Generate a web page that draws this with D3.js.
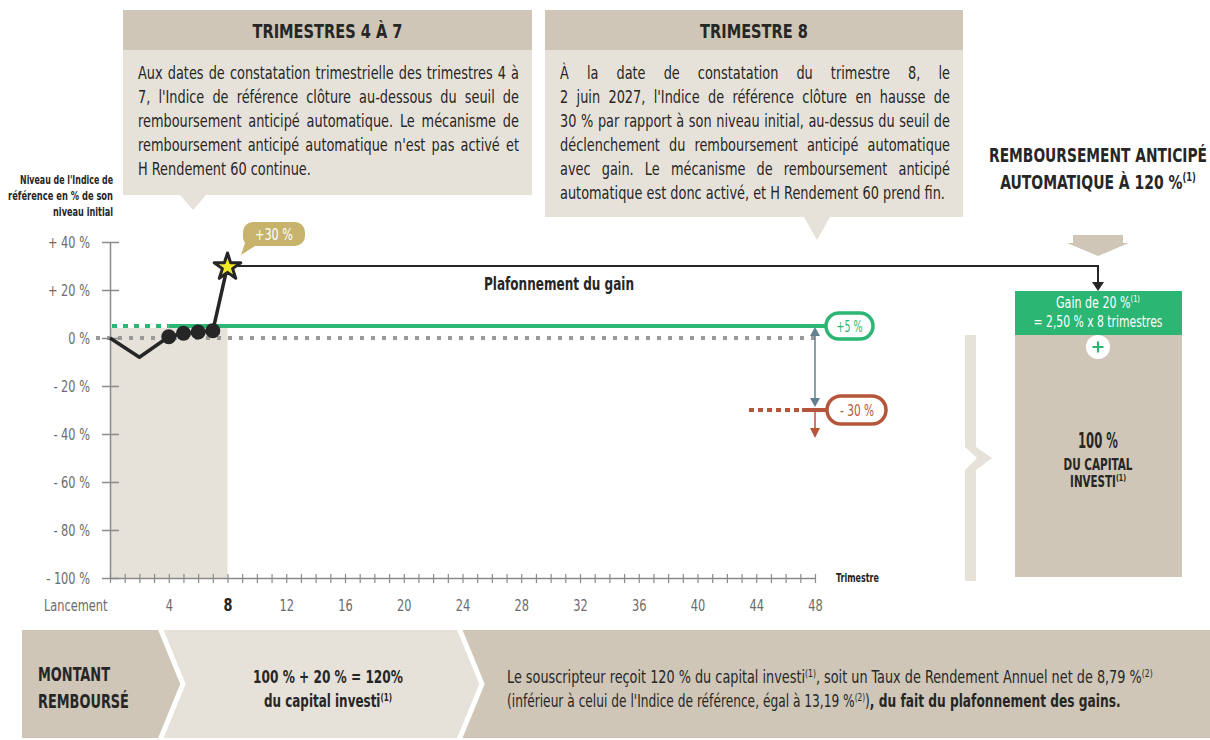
<!DOCTYPE html>
<html>
<head>
<meta charset="UTF-8">
<title>Remboursement anticipé</title>
<script src="https://cdn.jsdelivr.net/npm/d3@7"></script>
<style>
  body { margin: 0; background: #fff; }
  svg text { font-family: 'Liberation Sans Narrow', 'DejaVu Sans Condensed', 'Roboto', sans-serif; }
</style>
</head>
<body>
<script>
// data
var quarterTicks = d3.range(0, 49);
var quarterLabels = [0, 4, 8, 12, 16, 20, 24, 28, 32, 36, 40, 44, 48];
var yTicks = [40, 20, 0, -20, -40, -60, -80, -100];
var yTickLabels = ["+ 40 %", "+ 20 %", "0 %", "- 20 %", "- 40 %", "- 60 %", "- 80 %", "- 100 %"];
var indexQuarters = [0, 2, 4, 5, 6, 7, 8];
var indexValues = [0, -8, 0.5, 2, 2.5, 3, 30];
var observedQuarters = [4, 5, 6, 7];
var autocallLevel = 5;       // seuil de remboursement anticipé
var protectionLevel = -30;   // barrière
var finalQuarter = 8;
var finalValue = 30;

var INK = "#262626", BEIGE = "#cfc6b8", LIGHT = "#e6e2da", GREEN = "#2bb673",
    ORANGE = "#b5553a", SLATE = "#62808f", GOLD = "#c7b36c", GREY = "#8a8a8a";

var svg = d3.select("body").append("svg").attr("width", 1210).attr("height", 740);

function measure(str, size, weight) {
  var t = svg.append("text").attr("font-size", size).attr("font-weight", weight).text(str);
  var w = t.node().getComputedTextLength();
  t.remove();
  return w;
}
var kReg = Math.max(0.5, Math.min(1.3, 173 / measure("H Rendement 60 continue.", 17, 400)));
var kBold = Math.max(0.5, Math.min(1.3, 108 / measure("TRIMESTRE 8", 20, 700)));

// text helper: parts are strings or {t, b, sup}; o.fit squeezes to a width
function label(g, x, y, parts, o) {
  o = o || {};
  var size = o.size || 14;
  var k = o.weight == 700 ? kBold : kReg;
  var t = g.append("text")
    .attr("font-size", size)
    .attr("font-weight", o.weight || 400)
    .attr("fill", o.fill || INK)
    .attr("text-anchor", o.anchor || "start");
  if (typeof parts === "string") parts = [parts];
  var up = false;
  parts.forEach(function(p) {
    if (typeof p === "string") p = {t: p};
    var s = t.append("tspan").text(p.t);
    if (p.sup) { s.attr("font-size", size * 0.6).attr("dy", -size * 0.38); up = true; }
    else if (up) { s.attr("dy", size * 0.38); up = false; }
    if (p.b) s.attr("font-weight", 700);
  });
  if (o.fit) k = o.fit / t.node().getComputedTextLength();
  t.attr("transform", "translate(" + x + "," + y + ") scale(" + k + ",1)");
  if (o.justify) {
    var w = t.node().getComputedTextLength();
    var n = (t.text().match(/ /g) || []).length;
    if (n) t.attr("word-spacing", (o.justify / k - w) / n);
  }
  return t;
}

// scales
var x = d3.scaleLinear().domain([0, 48]).range([110, 815]);
var y = d3.scaleLinear().domain([-100, 40]).range([578, 242]);

// shaded observation window
svg.append("rect").attr("x", x(0)).attr("y", y(autocallLevel) + 2)
  .attr("width", x(finalQuarter) - x(0)).attr("height", y(-100) - y(autocallLevel) - 2)
  .attr("fill", LIGHT);

// 0 % reference (dotted)
svg.append("line").attr("x1", 96).attr("x2", x(48)).attr("y1", y(0)).attr("y2", y(0))
  .attr("stroke", "#9a9a9a").attr("stroke-width", 4).attr("stroke-dasharray", "4,7");

// autocall level
svg.append("line").attr("x1", x(0) + 2).attr("x2", x(4)).attr("y1", y(autocallLevel)).attr("y2", y(autocallLevel))
  .attr("stroke", GREEN).attr("stroke-width", 4).attr("stroke-dasharray", "5,6");
svg.append("line").attr("x1", x(4)).attr("x2", 826).attr("y1", y(autocallLevel)).attr("y2", y(autocallLevel))
  .attr("stroke", GREEN).attr("stroke-width", 4);

// protection barrier
svg.append("line").attr("x1", 749).attr("x2", 800).attr("y1", y(protectionLevel)).attr("y2", y(protectionLevel))
  .attr("stroke", ORANGE).attr("stroke-width", 4).attr("stroke-dasharray", "5,4");
svg.append("line").attr("x1", 802).attr("x2", 827).attr("y1", y(protectionLevel)).attr("y2", y(protectionLevel))
  .attr("stroke", ORANGE).attr("stroke-width", 4);

// vertical arrows at maturity
var xm = x(48);
svg.append("line").attr("x1", xm).attr("x2", xm).attr("y1", y(autocallLevel) + 6).attr("y2", y(protectionLevel) - 6)
  .attr("stroke", SLATE).attr("stroke-width", 1.5);
svg.append("path").attr("d", "M" + xm + "," + (y(autocallLevel) + 1) + "l-5,9h10z").attr("fill", SLATE);
svg.append("path").attr("d", "M" + xm + "," + (y(protectionLevel) - 3) + "l-5,-9h10z").attr("fill", SLATE);
svg.append("line").attr("x1", xm).attr("x2", xm).attr("y1", y(protectionLevel)).attr("y2", y(protectionLevel) + 20)
  .attr("stroke", ORANGE).attr("stroke-width", 1.5);
svg.append("path").attr("d", "M" + xm + "," + (y(protectionLevel) + 28) + "l-5,-10h10z").attr("fill", ORANGE);

// pills
svg.append("rect").attr("x", 826).attr("y", y(autocallLevel) - 13).attr("width", 47).attr("height", 26).attr("rx", 13)
  .attr("fill", "#fff").attr("stroke", GREEN).attr("stroke-width", 3.5);
label(svg, 849.5, y(autocallLevel) + 5.5, "+5 %", {size: 15, fill: GREEN, anchor: "middle", fit: 26});
svg.append("rect").attr("x", 827).attr("y", y(protectionLevel) - 14).attr("width", 59).attr("height", 28).attr("rx", 14)
  .attr("fill", "#fff").attr("stroke", ORANGE).attr("stroke-width", 3.5);
label(svg, 857, y(protectionLevel) + 5.5, "- 30 %", {size: 15, fill: ORANGE, anchor: "middle", fit: 34});

// y axis
var yAxis = svg.append("g").attr("transform", "translate(" + x(0) + ",0)")
  .call(d3.axisLeft(y).tickValues(yTicks).tickFormat(function(d, i) { return yTickLabels[i]; })
    .tickSize(8).tickSizeOuter(0));
yAxis.select(".domain").attr("stroke", GREY).attr("stroke-width", 1.5);
yAxis.selectAll(".tick line").attr("x1", -8).attr("x2", 9).attr("stroke", GREY).attr("stroke-width", 1.5);
yAxis.selectAll(".tick text").attr("font-size", 15).attr("fill", "#6b6b6b").attr("font-family", null)
  .attr("x", -20 / kReg).attr("dy", "0.35em").attr("transform", "scale(" + kReg + ",1)");

// x axis
var xAxis = svg.append("g").attr("transform", "translate(0," + y(-100) + ")")
  .call(d3.axisBottom(x).tickValues(quarterTicks).tickFormat("").tickSize(4).tickSizeOuter(0));
xAxis.select(".domain").attr("stroke", GREY).attr("stroke-width", 1.5);
xAxis.selectAll(".tick line").attr("y1", -4).attr("y2", 5).attr("stroke", GREY).attr("stroke-width", 1.2);

var xLab = svg.append("g").attr("transform", "translate(0," + y(-100) + ")")
  .call(d3.axisBottom(x).tickValues(quarterLabels).tickSize(0)
    .tickFormat(function(d) { return d === 0 ? "Lancement" : d; }));
xLab.select(".domain").remove();
xLab.selectAll(".tick text")
  .attr("font-family", null)
  .attr("font-size", function(d) { return d === finalQuarter ? 17 : 15; })
  .attr("font-weight", function(d) { return d === finalQuarter ? 700 : 400; })
  .attr("fill", function(d) { return d === finalQuarter ? INK : "#6b6b6b"; })
  .attr("text-anchor", function(d) { return d === 0 ? "end" : "middle"; })
  .attr("x", function(d) { return d === 0 ? -3 / kReg : 0; })
  .attr("y", 33).attr("dy", 0)
  .attr("transform", "scale(" + kReg + ",1)");

label(svg, 836, 582, "Trimestre", {size: 12, weight: 700, fit: 43});

// axis title
label(svg, 113, 184, "Niveau de l'Indice de", {size: 12, weight: 700, anchor: "end", fit: 93});
label(svg, 113, 200, "référence en % de son", {size: 12, weight: 700, anchor: "end", fit: 105});
label(svg, 113, 216, "niveau initial", {size: 12, weight: 700, anchor: "end", fit: 60});

// index path
var line = d3.line().x(function(d) { return x(d[0]); }).y(function(d) { return y(d[1]); });
var pts = indexQuarters.map(function(q, i) { return [q, indexValues[i]]; });
svg.append("path").attr("d", line(pts)).attr("fill", "none").attr("stroke", INK)
  .attr("stroke-width", 3.5).attr("stroke-linejoin", "round");
svg.selectAll("circle.obs").data(pts.filter(function(p) { return observedQuarters.indexOf(p[0]) >= 0; }))
  .enter().append("circle").attr("class", "obs")
  .attr("cx", function(d) { return x(d[0]); }).attr("cy", function(d) { return y(d[1]); })
  .attr("r", 7.5).attr("fill", INK);

// cap line to the payout box
var sx = x(finalQuarter), sy = y(finalValue);
svg.append("path").attr("d", "M" + sx + "," + sy + "H1098V284").attr("fill", "none")
  .attr("stroke", INK).attr("stroke-width", 2);
svg.append("path").attr("d", "M1098,291l-6,-9h12z").attr("fill", INK);
label(svg, 559, 290, "Plafonnement du gain", {size: 17, weight: 700, anchor: "middle", fit: 150});

// star
svg.append("path").attr("d", d3.symbol(d3.symbolStar, 220)())
  .attr("transform", "translate(" + sx + "," + (sy + 1) + ")")
  .attr("fill", "#f3e92b").attr("stroke", INK).attr("stroke-width", 3).attr("stroke-linejoin", "round");

// +30 % bubble
svg.append("path").attr("d", "M253,222h42a10,10 0 0 1 10,10v4a10,10 0 0 1 -10,10h-40l-14,9l4,-12a10,10 0 0 1 -2,-7v-4a10,10 0 0 1 10,-10z")
  .attr("fill", GOLD);
label(svg, 274, 240, "+30 %", {size: 16, fill: "#fff", anchor: "middle", fit: 38});

// explanation boxes
function box(x0, x1, title, lines, bottom, tailX, tailY) {
  svg.append("rect").attr("x", x0).attr("y", 50).attr("width", x1 - x0).attr("height", bottom - 50).attr("fill", LIGHT);
  svg.append("rect").attr("x", x0).attr("y", 10).attr("width", x1 - x0).attr("height", 40).attr("fill", BEIGE);
  svg.append("path").attr("d", "M" + (tailX - 13) + "," + bottom + "L" + tailX + "," + tailY + "L" + (tailX + 13) + "," + bottom + "z")
    .attr("fill", LIGHT);
  label(svg, (x0 + x1) / 2, 38, title, {size: 20, weight: 700, anchor: "middle"});
  var tx0 = x0 + 15, tw = x1 - x0 - 28;
  lines.forEach(function(s, i) {
    label(svg, tx0, 79 + i * 24, s, {size: 17, justify: i < lines.length - 1 ? tw : null});
  });
}
box(123, 532, "TRIMESTRES 4 À 7", [
  "Aux dates de constatation trimestrielle des trimestres 4 à",
  "7, l'Indice de référence clôture au-dessous du seuil de",
  "remboursement anticipé automatique. Le mécanisme de",
  "remboursement anticipé automatique n'est pas activé et",
  "H Rendement 60 continue."
], 195, 193, 210);
box(545, 963, "TRIMESTRE 8", [
  "À la date de constatation du trimestre 8, le",
  "2 juin 2027, l'Indice de référence clôture en hausse de",
  "30 % par rapport à son niveau initial, au-dessus du seuil de",
  "déclenchement du remboursement anticipé automatique",
  "avec gain. Le mécanisme de remboursement anticipé",
  "automatique est donc activé, et H Rendement 60 prend fin."
], 217, 817, 240);

// right-hand payout
label(svg, 1098, 162, "REMBOURSEMENT ANTICIPÉ", {size: 20, weight: 700, anchor: "middle", fit: 218});
label(svg, 1098, 189, ["AUTOMATIQUE À 120 %", {t: "(1)", sup: true}], {size: 20, weight: 700, anchor: "middle", fit: 196});
svg.append("path").attr("d", "M1073,235H1123V243H1129L1098,256L1067,243H1073Z").attr("fill", BEIGE);

svg.append("rect").attr("x", 1015).attr("y", 335).attr("width", 167).attr("height", 242).attr("fill", BEIGE);
svg.append("rect").attr("x", 1015).attr("y", 291).attr("width", 167).attr("height", 44).attr("fill", GREEN);
label(svg, 1098, 308, ["Gain de 20 %", {t: "(1)", sup: true}], {size: 15, fill: "#fff", anchor: "middle", fit: 84});
label(svg, 1098, 327, "=  2,50 % x 8 trimestres", {size: 15, fill: "#fff", anchor: "middle", fit: 129});
svg.append("circle").attr("cx", 1098).attr("cy", 347).attr("r", 12).attr("fill", "#fff");
svg.append("path").attr("d", "M1092.5,347H1103.5M1098,341.5V352.5").attr("stroke", GREEN).attr("stroke-width", 2.2);
label(svg, 1098, 448, "100 %", {size: 21, weight: 700, anchor: "middle", fit: 40});
label(svg, 1098, 470, "DU CAPITAL", {size: 16, weight: 700, anchor: "middle", fit: 69});
label(svg, 1098, 487, ["INVESTI", {t: "(1)", sup: true}], {size: 16, weight: 700, anchor: "middle", fit: 56});

// brace
svg.append("path").attr("d", "M965,335H976V447L992,458L976,470V581H965V470L977,458L965,447Z").attr("fill", LIGHT);

// bottom band
svg.append("rect").attr("x", 22).attr("y", 630).attr("width", 1188).attr("height", 108).attr("fill", BEIGE);
svg.append("path").attr("d", "M162,630H460L483,684L460,738H162L184,684Z").attr("fill", LIGHT);
svg.append("path").attr("d", "M160,628L183,684L160,740M459,628L482,684L459,740").attr("fill", "none")
  .attr("stroke", "#fff").attr("stroke-width", 5);
label(svg, 38, 681, "MONTANT", {size: 19, weight: 700, fit: 72});
label(svg, 38, 708, "REMBOURSÉ", {size: 19, weight: 700, fit: 91});
label(svg, 328, 683, "100 % + 20 % = 120%", {size: 17, weight: 700, anchor: "middle", fit: 150});
label(svg, 328, 707, ["du capital investi", {t: "(1)", sup: true}], {size: 17, weight: 700, anchor: "middle", fit: 128});
label(svg, 507, 683, ["Le souscripteur reçoit 120 % du capital investi", {t: "(1)", sup: true},
  ", soit un Taux de Rendement Annuel net de 8,79 %", {t: "(2)", sup: true}], {size: 17, fit: 646});
label(svg, 507, 707, ["(inférieur à celui de l'Indice de référence, égal à 13,19 %", {t: "(2)", sup: true},
  ")", {t: ", du fait du plafonnement des gains.", b: true}], {size: 17, fit: 614});
</script>
</body>
</html>
